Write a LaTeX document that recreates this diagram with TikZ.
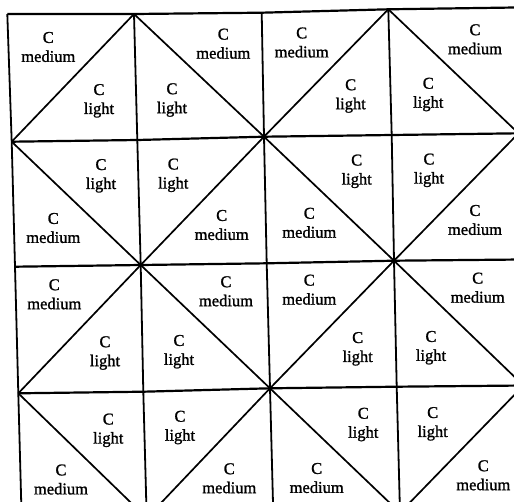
\documentclass[tikz,border=0pt]{standalone}
\usepackage{fontspec}
\newfontfamily\labfont[FakeBold=1.2]{Liberation Serif}
\begin{document}
\begin{tikzpicture}[x=1pt,y=-1pt,
  hline/.style={line width=2.2pt},
  vline/.style={line width=1.8pt},
  dline/.style={line width=1.7pt,line join=round},
  lab/.style={align=center,font=\labfont\fontsize{16.5}{19}\selectfont,inner sep=0pt}]
\useasboundingbox (0,0) rectangle (514,501);
\clip (0,0) rectangle (514,501);
% grid points (row, column)
\coordinate (p00) at (7.3,14);   \coordinate (p01) at (134,14);    \coordinate (p02) at (261.7,12.7); \coordinate (p03) at (388.3,9.3); \coordinate (p04) at (515,7.5);
\coordinate (p10) at (11.7,141.7); \coordinate (p11) at (137.3,140); \coordinate (p12) at (264,136.7); \coordinate (p13) at (391.7,135); \coordinate (p14) at (518.5,133.3);
\coordinate (p20) at (15,266.7); \coordinate (p21) at (140.7,265); \coordinate (p22) at (266.7,263.3); \coordinate (p23) at (394,260.7); \coordinate (p24) at (521,259.5);
\coordinate (p30) at (18.3,393.3); \coordinate (p31) at (143.3,391.7); \coordinate (p32) at (270,388.3); \coordinate (p33) at (396.7,386.7); \coordinate (p34) at (523.5,385.5);
\coordinate (p40) at (21.7,520); \coordinate (p41) at (146.7,518); \coordinate (p42) at (273.3,514.5); \coordinate (p43) at (400,512.7); \coordinate (p44) at (527,511.5);
% grid
\foreach \i in {0,...,4} \draw[hline] (p\i0) -- (p\i1) -- (p\i2) -- (p\i3) -- (p\i4);
\foreach \j in {0,...,4} \draw[vline] (p0\j) -- (p1\j) -- (p2\j) -- (p3\j) -- (p4\j);
% diagonals
\draw[dline] (p10) -- (p01) -- (p12) -- (p03) -- (p14);
\draw[dline] (p10) -- (p21) -- (p12) -- (p23) -- (p14);
\draw[dline] (p30) -- (p21) -- (p32) -- (p23) -- (p34);
\draw[dline] (p30) -- (p41) -- (p32) -- (p43) -- (p34);
% labels
\node[lab] (m11) at (48.3,47) {C\\medium};   \node[lab] (l11) at (99,100.8) {C\\light};
\node[lab] (m12) at (223.3,43.7) {C\\medium}; \node[lab] (l12) at (172,100) {C\\light};
\node[lab] (m13) at (301.7,42.5) {C\\medium}; \node[lab] (l13) at (350.7,96) {C\\light};
\node[lab] (m14) at (475,39.3) {C\\medium};   \node[lab] (l14) at (428.3,94.5) {C\\light};
\node[lab] (l21) at (101,175.8) {C\\light};   \node[lab] (m21) at (53.3,228) {C\\medium};
\node[lab] (l22) at (173.3,175.3) {C\\light}; \node[lab] (m22) at (221.7,225) {C\\medium};
\node[lab] (l23) at (356.7,171.3) {C\\light}; \node[lab] (m23) at (309.3,222.8) {C\\medium};
\node[lab] (l24) at (429,170.3) {C\\light};   \node[lab] (m24) at (475,220) {C\\medium};
\node[lab] (m31) at (54.3,294.3) {C\\medium}; \node[lab] (l31) at (105,353) {C\\light};
\node[lab] (m32) at (226,291.3) {C\\medium};  \node[lab] (l32) at (179,351.7) {C\\light};
\node[lab] (m33) at (309.3,289.7) {C\\medium}; \node[lab] (l33) at (357.7,348.8) {C\\light};
\node[lab] (m34) at (477.7,287.7) {C\\medium}; \node[lab] (l34) at (431,347.7) {C\\light};
\node[lab] (l41) at (108.3,430.3) {C\\light}; \node[lab] (m41) at (61,479.5) {C\\medium};
\node[lab] (l42) at (180,427.5) {C\\light};   \node[lab] (m42) at (229.3,478.3) {C\\medium};
\node[lab] (l43) at (363.3,424.5) {C\\light}; \node[lab] (m43) at (316.7,478) {C\\medium};
\node[lab] (l44) at (432.7,423.8) {C\\light}; \node[lab] (m44) at (483.3,475.3) {C\\medium};
\end{tikzpicture}
\end{document}
